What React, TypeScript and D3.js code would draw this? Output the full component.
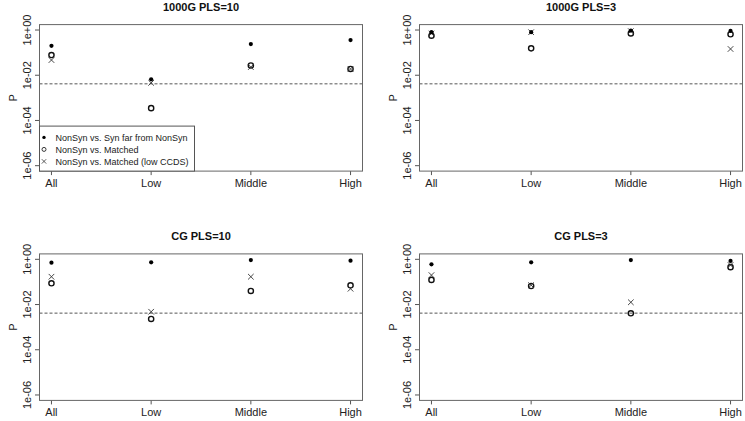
import React from 'react';
import * as d3 from 'd3';

const categories = ['All', 'Low', 'Middle', 'High'];
const titles = ['1000G PLS=10', '1000G PLS=3', 'CG PLS=10', 'CG PLS=3'];
const seriesNames = [
  'NonSyn vs. Syn far from NonSyn',
  'NonSyn vs. Matched',
  'NonSyn vs. Matched (low CCDS)',
];
const yTicks = [1, 1e-2, 1e-4, 1e-6];
const yTickLabels = ['1e+00', '1e-02', '1e-04', '1e-06'];
const threshold = 0.05 / 12;

// p-values per panel, one entry per category
const synFar = [
  [0.2, 0.0066, 0.24, 0.36],
  [0.8, 0.8, 0.95, 0.91],
  [0.71, 0.74, 0.93, 0.87],
  [0.6, 0.74, 0.93, 0.85],
];
const matched = [
  [0.078, 0.00035, 0.027, 0.019],
  [0.56, 0.155, 0.71, 0.65],
  [0.087, 0.0023, 0.04, 0.071],
  [0.123, 0.066, 0.0041, 0.45],
];
const matchedLowCcds = [
  [0.047, 0.0046, 0.023, 0.019],
  [0.7, 0.8, 0.89, 0.145],
  [0.17, 0.0048, 0.17, 0.05],
  [0.2, 0.072, 0.0126, 0.56],
];

const W = 745;
const H = 421;
const font = '"Liberation Sans", Arial, Helvetica, sans-serif';
const boxes = [
  { x0: 39.5, x1: 362.5, y0: 24.6, y1: 171.1 },
  { x0: 419.5, x1: 742.5, y0: 24.6, y1: 171.1 },
  { x0: 39.5, x1: 362.5, y0: 253.9, y1: 400.4 },
  { x0: 419.5, x1: 742.5, y0: 253.9, y1: 400.4 },
];

const Cross = ({ cx, cy, s, w }: { cx: number; cy: number; s: number; w: number }) => (
  <g stroke="#333" strokeWidth={w}>
    <line x1={cx - s} y1={cy - s} x2={cx + s} y2={cy + s} />
    <line x1={cx - s} y1={cy + s} x2={cx + s} y2={cy - s} />
  </g>
);

function Panel({ i }: { i: number }) {
  const b = boxes[i];
  const x = d3.scaleLinear().domain([0.88, 4.12]).range([b.x0, b.x1]);
  const y = d3.scaleLog().domain([Math.pow(10, -6.24), Math.pow(10, 0.24)]).range([b.y1, b.y0]);
  const cx = (k: number) => x(k + 1);

  return (
    <g>
      <text x={(b.x0 + b.x1) / 2} y={b.y0 - 13.5} textAnchor="middle" fontWeight="bold" fontSize={11} fill="#111">
        {titles[i]}
      </text>
      {/* x axis */}
      <g>
        {categories.map((c, k) => (
          <g key={c}>
            <line x1={cx(k)} x2={cx(k)} y1={b.y1} y2={b.y1 + 4} stroke="#555" />
            <text x={cx(k)} y={b.y1 + 16} textAnchor="middle" fontSize={11} fill="#222">{c}</text>
          </g>
        ))}
      </g>
      {/* y axis */}
      <g>
        {yTicks.map((t, k) => (
          <g key={t}>
            <line x1={b.x0 - 4.5} x2={b.x0} y1={y(t)} y2={y(t)} stroke="#555" />
            <text transform={`translate(${b.x0 - 9},${y(t)}) rotate(-90)`} textAnchor="middle" fontSize={11} fill="#222">
              {yTickLabels[k]}
            </text>
          </g>
        ))}
        <text transform={`translate(${b.x0 - 23},${(b.y0 + b.y1) / 2}) rotate(-90)`} textAnchor="middle" fontSize={11} fill="#222">P</text>
      </g>
      <line x1={b.x0} x2={b.x1} y1={y(threshold)} y2={y(threshold)} stroke="#555" strokeDasharray="3,2" />
      {categories.map((c, k) => (
        <g key={c}>
          <circle cx={cx(k)} cy={y(matched[i][k])} r={2.6} fill="none" stroke="#111" strokeWidth={1.4} />
          <Cross cx={cx(k)} cy={y(matchedLowCcds[i][k])} s={2.8} w={0.9} />
          <circle cx={cx(k)} cy={y(synFar[i][k])} r={2.1} fill="#000" />
        </g>
      ))}
      <rect x={b.x0} y={b.y0} width={b.x1 - b.x0} height={b.y1 - b.y0} fill="none" stroke="#666" />
      {i === 0 && (
        <g>
          <rect x={b.x0} y={b.y1 - 45} width={155} height={45} fill="#fff" stroke="#555" />
          {seriesNames.map((s, k) => {
            const ly = b.y1 - 33.7 + k * 12;
            const sx = b.x0 + 4.5;
            return (
              <g key={s}>
                {k === 0 && <circle cx={sx} cy={ly} r={1.7} fill="#000" />}
                {k === 1 && <circle cx={sx} cy={ly} r={2} fill="none" stroke="#222" strokeWidth={0.9} />}
                {k === 2 && <Cross cx={sx} cy={ly} s={2.2} w={0.8} />}
                <text x={b.x0 + 16} y={ly + 3.3} fontSize={9} fill="#222">{s}</text>
              </g>
            );
          })}
        </g>
      )}
    </g>
  );
}

export default function App() {
  return (
    <svg width={W} height={H} style={{ position: 'absolute', left: 0, top: 0, background: '#fff' }} fontFamily={font}>
      {titles.map((t, i) => (
        <Panel key={t} i={i} />
      ))}
    </svg>
  );
}
